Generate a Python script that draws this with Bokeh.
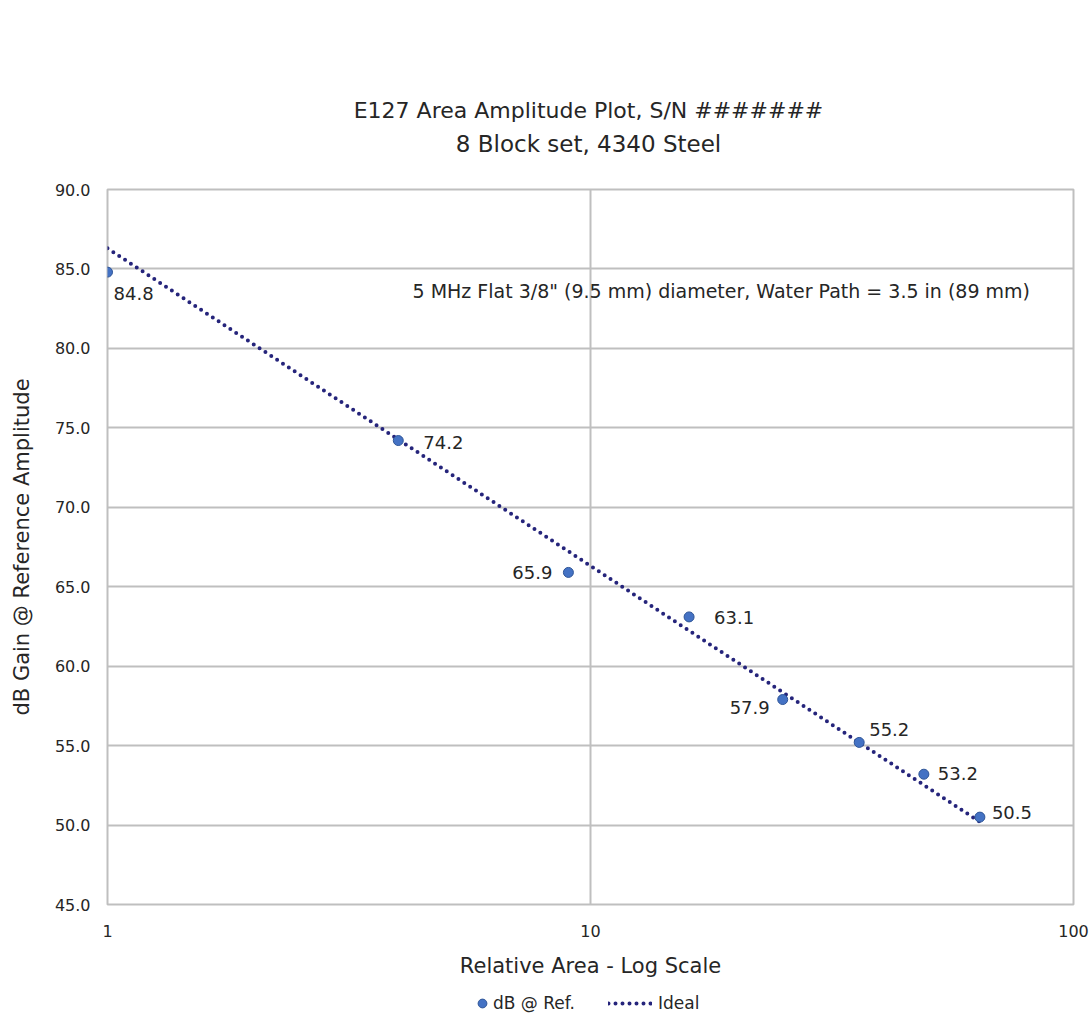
from bokeh.plotting import figure
from bokeh.layouts import column
from bokeh.models import (ColumnDataSource, LabelSet, Label, Legend, LegendItem,
                          FixedTicker, PrintfTickFormatter, Range1d)
from bokeh.core.properties import value
from bokeh.embed import file_html
from bokeh.resources import INLINE

# ---- data ----
relative_area = [1, 4, 9, 16, 25, 36, 49, 64]
db_at_ref = [84.8, 74.2, 65.9, 63.1, 57.9, 55.2, 53.2, 50.5]
ideal_area = [1, 64]
ideal_db = [86.3, 50.2]
x_ticks = [1, 10, 100]
y_ticks = [45, 50, 55, 60, 65, 70, 75, 80, 85, 90]
title_lines = ["E127 Area Amplitude Plot, S/N #######", "8 Block set, 4340 Steel"]
note_text = '5 MHz Flat 3/8" (9.5 mm) diameter, Water Path = 3.5 in (89 mm)'
legend_labels = ["dB @ Ref.", "Ideal"]

# label placement (style, screen px)
label_dx = [6, 25, -16, 25, -13, 10, 14, 12]
label_dy = [-21, -2, 0, -1, -8, 13, 1, 5]
label_align = ["left", "left", "right", "left", "right", "left", "left", "left"]

FONT = "DejaVu Sans"
TXT = "#262626"
GRID = "#BFBFBF"
PT_FILL = "#4472C4"
PT_LINE = "#2F5597"
IDEAL_C = "#25247B"

W = 1091
TOP_H = 170
MAIN_H = 820
LEG_H = 24
BL, BR = 107, 18          # frame borders (left / right)
FX0, FX1 = BL, W - BR     # frame extent in page px


def strip(height, yr):
    f = figure(width=W, height=height, x_range=Range1d(FX0, FX1), y_range=yr,
               x_axis_location=None, y_axis_location=None, output_backend="svg",
               toolbar_location=None, min_border_left=BL, min_border_right=BR,
               min_border_top=0, min_border_bottom=0)
    f.background_fill_color = "white"
    f.border_fill_color = "white"
    f.outline_line_color = None
    f.grid.visible = False
    return f


# ---- title strip ----
p_top = strip(TOP_H, Range1d(TOP_H, 0))
p_top.text(x=[588], y=[110], text=[title_lines[0]], text_align="center",
           text_baseline="middle", text_font=value(FONT),
           text_font_size=value("22px"), text_color=TXT)
p_top.text(x=[588], y=[143], text=[title_lines[1]], text_align="center",
           text_baseline="middle", text_font=value(FONT),
           text_font_size=value("23px"), text_color=TXT)

# ---- main chart ----
p = figure(width=W, height=MAIN_H, x_axis_type="log",
           x_range=Range1d(1, 100), y_range=Range1d(45, 90),
           output_backend="svg", toolbar_location=None,
           min_border_left=BL, min_border_right=BR,
           min_border_top=19, min_border_bottom=86)
p.background_fill_color = "white"
p.border_fill_color = "white"
p.outline_line_color = GRID
p.outline_line_width = 2

p.xaxis.ticker = FixedTicker(ticks=x_ticks)
p.xaxis.formatter = PrintfTickFormatter(format="%d")
p.yaxis.ticker = FixedTicker(ticks=y_ticks)
p.yaxis.formatter = PrintfTickFormatter(format="%.1f")
for ax in (p.xaxis, p.yaxis):
    ax.axis_line_color = None
    ax.major_tick_line_color = None
    ax.minor_tick_line_color = None
    ax.major_tick_in = 0
    ax.major_tick_out = 0
    ax.major_label_text_font = FONT
    ax.major_label_text_font_size = "16px"
    ax.major_label_text_color = TXT
    ax.axis_label_text_font = FONT
    ax.axis_label_text_font_size = "21px"
    ax.axis_label_text_font_style = "normal"
    ax.axis_label_text_color = TXT
p.xaxis.axis_label = "Relative Area - Log Scale"
p.yaxis.axis_label = "dB Gain @ Reference Amplitude"
p.xaxis.major_label_standoff = 20
p.xaxis.axis_label_standoff = 14
p.yaxis.major_label_standoff = 17
p.yaxis.axis_label_standoff = 18

p.xgrid.grid_line_color = GRID
p.xgrid.grid_line_width = 2
p.ygrid.grid_line_color = GRID
p.ygrid.grid_line_width = 2
p.xgrid.minor_grid_line_color = None

src = ColumnDataSource(dict(x=relative_area, y=db_at_ref,
                            txt=["%.1f" % v for v in db_at_ref],
                            dx=label_dx, dy=label_dy, al=label_align))

ideal = p.line(ideal_area, ideal_db, line_color=IDEAL_C, line_width=4,
               line_dash="0 7", line_cap="round")
pts = p.scatter("x", "y", source=src, size=10, fill_color=PT_FILL,
                line_color=PT_LINE, line_width=1)

p.add_layout(LabelSet(x="x", y="y", text="txt", source=src,
                      x_offset="dx", y_offset="dy", text_align="al",
                      text_baseline="middle", text_font=value(FONT),
                      text_font_size=value("18px"), text_color=TXT))

p.add_layout(Label(x=10, y=85, x_offset=-178, y_offset=-22, text=note_text,
                   text_align="left", text_baseline="middle", text_font=FONT,
                   text_font_size="19px", text_color=TXT))

# ---- legend strip ----
p_leg = strip(LEG_H, Range1d(0, 1))
# proxy renderers (placed off-range) that only supply the legend swatches
leg_pts = p_leg.scatter(x=[-1e6], y=[-1e6], size=10, fill_color=PT_FILL,
                        line_color=PT_LINE, line_width=1)
leg_line = p_leg.line(x=[-1e6, -2e6], y=[-1e6, -1e6], line_color=IDEAL_C,
                      line_width=4, line_dash="0 7", line_cap="round")
common = dict(orientation="horizontal", glyph_height=22, label_height=20,
              padding=0, margin=0, border_line_color=None,
              background_fill_alpha=0, label_text_font=FONT,
              label_text_font_size="17px", label_text_color=TXT)
p_leg.add_layout(Legend(items=[LegendItem(label=legend_labels[0], renderers=[leg_pts])],
                        location=(471 - BL, 0), glyph_width=22, label_standoff=0,
                        **common))
p_leg.add_layout(Legend(items=[LegendItem(label=legend_labels[1], renderers=[leg_line])],
                        location=(608 - BL, 0), glyph_width=44, label_standoff=6,
                        **common))

layout = column(p_top, p, p_leg, spacing=0)
open("out.html", "w").write(file_html(layout, INLINE))
